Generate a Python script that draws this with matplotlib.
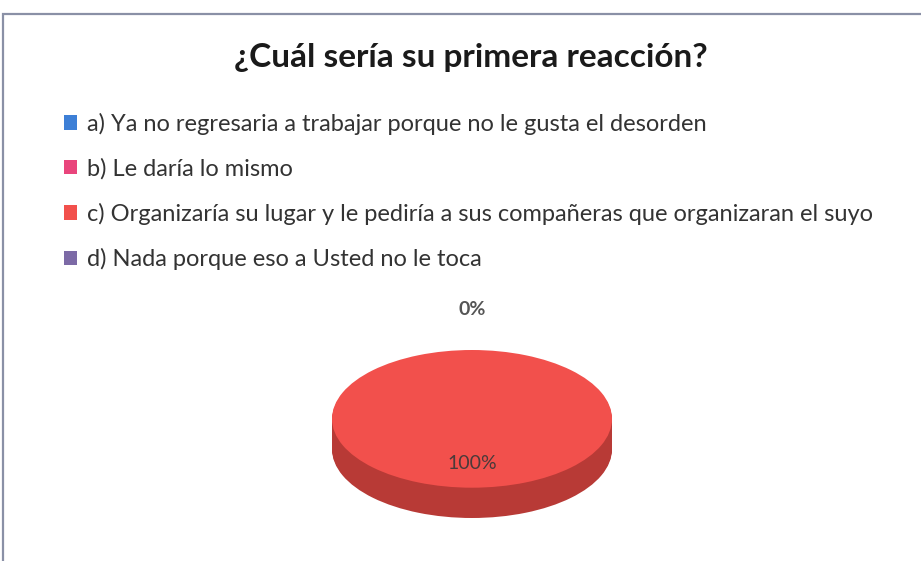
import matplotlib.pyplot as plt
import numpy as np
from matplotlib.patches import Rectangle

title = "¿Cuál sería su primera reacción?"
labels = [
    "a) Ya no regresaria a trabajar porque no le gusta el desorden",
    "b) Le daría lo mismo",
    "c) Organizaría su lugar y le pediría a sus compañeras que organizaran el suyo",
    "d) Nada porque eso a Usted no le toca",
]
values = [0, 0, 100, 0]
colors = ["#3d7fd6", "#e9457c", "#f2504c", "#7c6aa6"]
side_colors = ["#2c5fa0", "#b03460", "#b83a36", "#5c4e80"]

W, H = 921, 561
fig = plt.figure(figsize=(W / 100, H / 100), dpi=100)
fig.patch.set_facecolor("white")
plt.rcParams["font.family"] = ["Lato", "DejaVu Sans"]

# chart frame
fig.add_artist(Rectangle((3 / W, -0.05), 1.0, (H - 14) / H + 0.05,
                         transform=fig.transFigure, fill=False,
                         edgecolor="#8a90a6", linewidth=1.6))

fig.text(471 / W, 1 - 57 / H, title, ha="center", va="center",
         fontsize=24, fontweight="bold", color="#1a1a1a")

# pie axes in pixel box (332..612 x 350..518)
x0, x1, y0, y1 = 332, 612, 350, 518
ax = fig.add_axes([x0 / W, 1 - y1 / H, (x1 - x0) / W, (y1 - y0) / H])
depth = 0.44

# side of the 3D disc
for d in np.linspace(depth, 0.02, 25):
    ax.pie(values, colors=side_colors, radius=1, center=(0, -d), startangle=90,
           counterclock=False, wedgeprops=dict(linewidth=0))
wedges, _ = ax.pie(values, colors=colors, radius=1, center=(0, 0), startangle=90,
                   counterclock=False, wedgeprops=dict(linewidth=0))
ax.set_aspect("auto")
ax.set_xlim(-1, 1)
ax.set_ylim(-1 - depth, 1)
ax.axis("off")

ax.text(0, -0.65, f"{values[2]:.0f}%", ha="center", va="center",
        fontsize=14, color="#4a3a3a")
ax.text(0, 1.59, f"{values[0]:.0f}%", ha="center", va="center",
        fontsize=14, fontweight="bold", color="#555555", clip_on=False)

fig.legend(wedges, labels, loc="upper left", bbox_to_anchor=(52 / W, 1 - 101 / H),
           frameon=False, fontsize=17, handlelength=0.55, handleheight=0.55,
           handletextpad=0.45, labelspacing=0.98, borderpad=0, labelcolor="#333333")

fig.savefig("out.png", dpi=100)
